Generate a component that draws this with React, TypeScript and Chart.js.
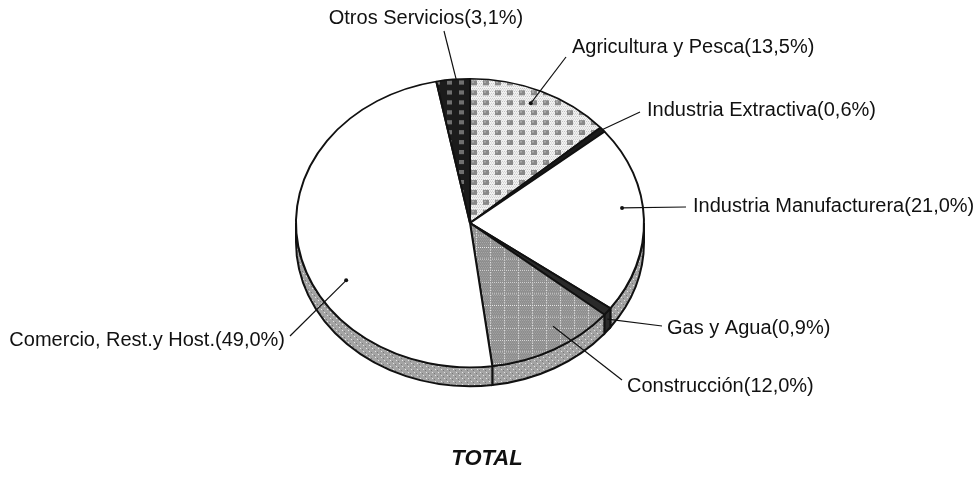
import React, { useEffect, useRef } from 'react';
import { Chart, registerables } from 'chart.js';

Chart.register(...registerables);

// ---- data ----
const categories = [
  'Agricultura y Pesca',
  'Industria Extractiva',
  'Industria Manufacturera',
  'Gas y Agua',
  'Construcción',
  'Comercio, Rest.y Host.',
  'Otros Servicios',
];
const shares = [13.5, 0.6, 21.0, 0.9, 12.0, 49.0, 3.1];
const shareLabels = ['13,5%', '0,6%', '21,0%', '0,9%', '12,0%', '49,0%', '3,1%'];
const chartTitle = 'TOTAL';

// ---- layout (annotation placement, not data) ----
const DEPTH = 19;
const K = 0.829;
type LL = { t: number; r: number; side?: number; ox: number; oy: number; tx: number; ty: number; align: CanvasTextAlign; dot?: boolean };
const labelLayout: LL[] = [
  { t: 0.47, r: 0.9, ox: 566, oy: 57, tx: 572, ty: 47, align: 'left', dot: true },
  { t: 0.5, r: 1.0, ox: 640, oy: 112, tx: 647, ty: 110, align: 'left' },
  { t: 0.43, r: 0.88, ox: 686, oy: 207, tx: 693, ty: 206, align: 'left', dot: true },
  { t: 0.5, r: 1.0, side: 0.4, ox: 662, oy: 326, tx: 667, ty: 328, align: 'left' },
  { t: 0.39, r: 0.86, ox: 622, oy: 380, tx: 627, ty: 386, align: 'left' },
  { t: 0.387, r: 0.815, ox: 290, oy: 336, tx: 285, ty: 340, align: 'right', dot: true },
  { t: 0.59, r: 1.0, ox: 444, oy: 31, tx: 426, ty: 18, align: 'center' },
];

function makePattern(w: number, h: number, draw: (g: CanvasRenderingContext2D) => void) {
  const c = document.createElement('canvas');
  c.width = w;
  c.height = h;
  const g = c.getContext('2d')!;
  draw(g);
  return g.createPattern(c, 'repeat')!;
}

export default function App() {
  const ref = useRef<HTMLCanvasElement>(null);

  useEffect(() => {
    const canvas = ref.current!;

    const agr = makePattern(12, 12, (g) => {
      g.fillStyle = '#f2f2f2';
      g.fillRect(0, 0, 12, 12);
      g.fillStyle = '#c0c0c0';
      for (let y = 0; y < 12; y += 2) for (let x = (y / 2) % 2; x < 12; x += 2) g.fillRect(x, y, 1, 1);
      g.fillStyle = '#888888';
      g.fillRect(3, 3, 6, 6);
      g.fillStyle = '#aaaaaa';
      g.fillRect(4, 4, 2, 2);
    });
    const otros = makePattern(12, 12, (g) => {
      g.fillStyle = '#1c1c1c';
      g.fillRect(0, 0, 12, 12);
      g.fillStyle = '#707070';
      g.fillRect(3, 3, 5, 5);
    });
    const constr = makePattern(14, 14, (g) => {
      g.fillStyle = '#8e8e8e';
      g.fillRect(0, 0, 14, 14);
      g.fillStyle = '#a8a8a8';
      for (let y = 0; y < 14; y += 2) for (let x = (y / 2) % 2; x < 14; x += 2) g.fillRect(x, y, 1, 1);
      g.fillStyle = '#e8e8e8';
      for (let x = 0; x < 14; x += 2) g.fillRect(x, 0, 1, 1);
      for (let y = 0; y < 14; y += 2) g.fillRect(0, y, 1, 1);
    });
    const side = makePattern(6, 6, (g) => {
      g.fillStyle = '#a4a4a4';
      g.fillRect(0, 0, 6, 6);
      g.fillStyle = '#e6e6e6';
      g.fillRect(0, 0, 1, 1);
      g.fillRect(3, 3, 1, 1);
      g.fillStyle = '#7a7a7a';
      g.fillRect(2, 1, 1, 1);
      g.fillRect(5, 4, 1, 1);
    });

    const topFills = [agr, '#1a1a1a', '#ffffff', '#2a2a2a', constr, '#ffffff', otros];
    const sideFills = [side, '#1a1a1a', side, '#2a2a2a', side, side, '#1c1c1c'];

    const pie3d = {
      id: 'pie3d',
      beforeDatasetsDraw(chart: any) {
        const ctx: CanvasRenderingContext2D = chart.ctx;
        const meta = chart.getDatasetMeta(0);
        meta.data.forEach((el: any, i: number) => {
          const { x, y, startAngle, endAngle, outerRadius } = el.getProps(
            ['x', 'y', 'startAngle', 'endAngle', 'outerRadius'],
            true
          );
          const a1 = Math.max(startAngle, 0);
          const a2 = Math.min(endAngle, Math.PI);
          if (a2 <= a1) return;
          ctx.beginPath();
          ctx.ellipse(x, y, outerRadius, outerRadius * K, 0, a1, a2, false);
          ctx.ellipse(x, y + DEPTH, outerRadius, outerRadius * K, 0, a2, a1, true);
          ctx.closePath();
          ctx.fillStyle = sideFills[i] as any;
          ctx.fill();
          ctx.lineWidth = 2;
          ctx.strokeStyle = '#111';
          ctx.stroke();
        });
        const el0 = meta.data[0];
        ctx.save();
        ctx.translate(el0.x, el0.y);
        ctx.scale(1, K);
        ctx.translate(-el0.x, -el0.y);
      },
      afterDatasetsDraw(chart: any) {
        chart.ctx.restore();
      },
    };

    const labelsPlugin = {
      id: 'pieLabels',
      afterDraw(chart: any) {
        const ctx: CanvasRenderingContext2D = chart.ctx;
        const meta = chart.getDatasetMeta(0);
        ctx.save();
        meta.data.forEach((el: any, i: number) => {
          const L = labelLayout[i];
          const { x, y, startAngle, endAngle, outerRadius } = el.getProps(
            ['x', 'y', 'startAngle', 'endAngle', 'outerRadius'],
            true
          );
          const th = startAngle + L.t * (endAngle - startAngle);
          const px = x + L.r * outerRadius * Math.cos(th);
          const py = y + L.r * outerRadius * Math.sin(th) * K + (L.side || 0) * DEPTH;
          ctx.strokeStyle = '#111';
          ctx.lineWidth = 1.2;
          ctx.beginPath();
          ctx.moveTo(px, py);
          ctx.lineTo(L.ox, L.oy);
          ctx.stroke();
          if (L.dot) {
            ctx.fillStyle = '#111';
            ctx.beginPath();
            ctx.arc(px, py, 2, 0, Math.PI * 2);
            ctx.fill();
          }
          ctx.fillStyle = '#111';
          ctx.font = '20px "Liberation Sans", Arial, sans-serif';
          ctx.textAlign = L.align;
          ctx.textBaseline = 'middle';
          ctx.fillText(`${categories[i]}(${shareLabels[i]})`, L.tx, L.ty);
        });
        ctx.font = 'italic bold 22px "Liberation Sans", Arial, sans-serif';
        ctx.textAlign = 'center';
        ctx.textBaseline = 'middle';
        ctx.fillStyle = '#111';
        ctx.fillText(chartTitle, 487, 459);
        ctx.restore();
      },
    };

    const chart = new Chart(canvas, {
      type: 'pie',
      data: {
        labels: categories,
        datasets: [
          {
            data: shares,
            backgroundColor: topFills as any,
            borderColor: '#111',
            borderWidth: 2,
            clip: false as any,
          },
        ],
      },
      options: {
        responsive: false,
        animation: false,
        events: [],
        rotation: 0,
        layout: { padding: { left: 295, right: 335, top: 48, bottom: 79 } },
        plugins: { legend: { display: false }, tooltip: { enabled: false }, title: { display: false } },
      },
      plugins: [pie3d, labelsPlugin],
    });
    return () => chart.destroy();
  }, []);

  return (
    <div style={{ position: 'absolute', left: 0, top: 0, width: 980, height: 477, background: '#fff' }}>
      <canvas ref={ref} width={980} height={477} style={{ display: 'block' }} />
    </div>
  );
}
